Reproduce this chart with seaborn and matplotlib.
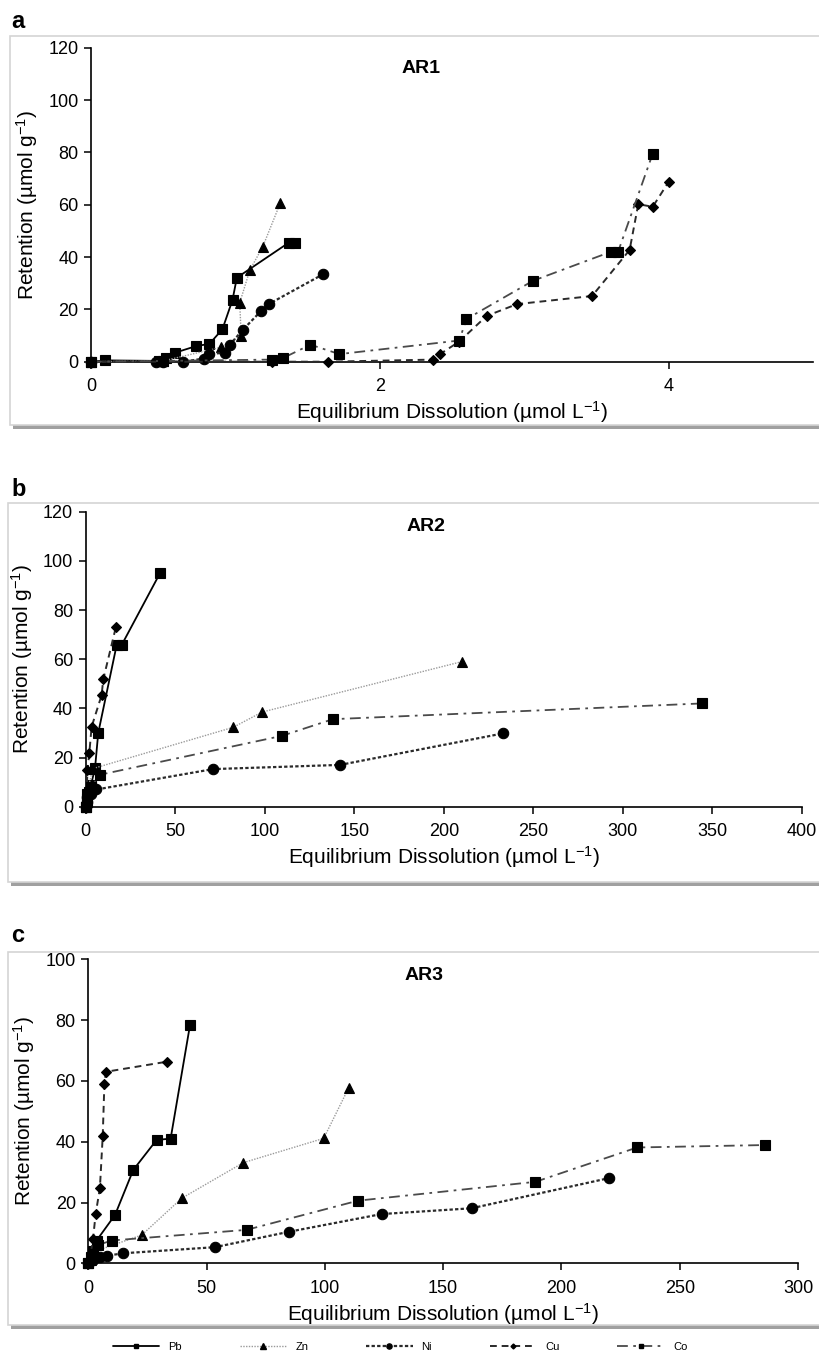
import matplotlib
matplotlib.use("Agg")
import matplotlib.pyplot as plt
import seaborn as sns
from matplotlib.patches import Rectangle
from matplotlib.lines import Line2D

# ---- data ----
# panel a (AR1)
a_pb_x = [0, 0.1, 0.47, 0.52, 0.58, 0.73, 0.82, 0.91, 0.98, 1.01, 1.37, 1.41]
a_pb_y = [0, 0.5, 0.3, 1.5, 3.4, 6.0, 6.8, 12.4, 23.6, 32.1, 45.5, 45.5]
a_zn_x = [0, 0.5, 0.9, 1.04, 1.03, 1.1, 1.19, 1.31]
a_zn_y = [0, 0.3, 5.5, 10.0, 22.5, 35.0, 44.0, 60.5]
a_ni_x = [0, 0.45, 0.5, 0.64, 0.78, 0.82, 0.93, 0.96, 1.05, 1.18, 1.23, 1.61]
a_ni_y = [0, 0, 0, 0, 1.2, 3.0, 3.4, 6.4, 12.1, 19.5, 22.0, 33.5]
a_cu_x = [0, 0.5, 1.25, 1.64, 2.37, 2.42, 2.55, 2.74, 2.95, 3.47, 3.73, 3.79, 3.89, 4.0]
a_cu_y = [0, 0, 0, 0, 0.8, 3.0, 7.7, 17.5, 22.0, 25.1, 42.7, 60.2, 59.2, 68.7]
a_co_x = [0, 0.5, 1.25, 1.33, 1.52, 1.72, 2.55, 2.6, 3.06, 3.6, 3.65, 3.89]
a_co_y = [0, 0.3, 0.8, 1.4, 6.5, 2.9, 8.1, 16.3, 30.9, 42.0, 42.0, 79.5]

# panel b (AR2)
b_pb_x = [0, 1, 2, 3, 5.2, 7, 17.3, 20.1, 41.5]
b_pb_y = [0, 3, 6, 9, 15.6, 30, 65.8, 65.8, 95]
b_zn_x = [0, 0.5, 1.5, 4, 82.4, 98.5, 210]
b_zn_y = [0, 3, 8, 15.5, 32.3, 38.5, 59.0]
b_ni_x = [0, 0.5, 1, 3, 6, 71.2, 142, 233]
b_ni_y = [0, 2, 4, 5, 7, 15.3, 17.0, 29.8]
b_cu_x = [0, 0.5, 1, 2.0, 3.3, 8.9, 9.8, 16.9]
b_cu_y = [0, 5, 15, 21.7, 32.5, 45.4, 51.8, 73.2]
b_co_x = [0, 0.5, 1, 3, 8, 109.5, 138, 344]
b_co_y = [0, 2, 5, 8, 13, 28.8, 35.6, 42.0]

# panel c (AR3)
c_pb_x = [0, 1, 2, 3.5, 11.3, 19.0, 28.9, 34.8, 43.0]
c_pb_y = [0, 2, 4, 7.5, 15.9, 30.7, 40.6, 41.0, 78.4]
c_zn_x = [0, 1, 3, 22.6, 39.5, 65.5, 99.5, 110]
c_zn_y = [0, 1, 4, 9.3, 21.4, 33.1, 41.1, 57.6]
c_ni_x = [0, 2, 5, 8, 14.8, 53.5, 85, 124, 162, 220]
c_ni_y = [0, 1, 2, 2.5, 3.3, 5.3, 10.4, 16.2, 18.1, 28.0]
c_cu_x = [0, 1, 2, 3.1, 4.9, 6.1, 6.8, 7.5, 33.1]
c_cu_y = [0, 3, 8, 16.2, 24.7, 41.9, 59.0, 63.0, 66.3]
c_co_x = [0, 2, 4, 9.9, 66.9, 114, 189, 232, 286]
c_co_y = [0, 3, 6, 7.5, 11.0, 20.6, 26.8, 38.1, 38.9]

metals = ["Pb", "Zn", "Ni", "Cu", "Co"]

styles = {
    "Pb": dict(color="black", linestyle="-", lw=1.3, marker="s", ms=7),
    "Zn": dict(color="#9a9a9a", linestyle=(0, (1, 1)), lw=1.0, marker="^", ms=7.5),
    "Ni": dict(color="#2a2a2a", linestyle=(0, (1.5, 1)), lw=1.6, marker="o", ms=7.5),
    "Cu": dict(color="#2a2a2a", linestyle=(0, (3.5, 2.5)), lw=1.4, marker="D", ms=5),
    "Co": dict(color="#4a4a4a", linestyle=(0, (6, 3, 1.5, 3)), lw=1.3, marker="s", ms=7),
}

W, H = 819, 1359
sns.set_style("ticks")
plt.rcParams["font.family"] = ["Liberation Sans", "DejaVu Sans"]
plt.rcParams["mathtext.fontset"] = "custom"
plt.rcParams["mathtext.rm"] = "Liberation Sans"
plt.rcParams["mathtext.it"] = "Liberation Sans"
plt.rcParams["text.color"] = "black"
plt.rcParams["axes.labelcolor"] = "black"

fig = plt.figure(figsize=(W / 100, H / 100), dpi=100)


def fx(x):
    return x / W


def fy(y):
    return 1 - y / H


# panel frames with a drop shadow (kept behind the axes)
for (x0, y0, x1, y1) in [(10, 36, 822, 425), (8, 503, 822, 882), (8, 952, 822, 1325)]:
    fig.add_artist(Rectangle((fx(x0 + 3), fy(y1 + 4)), fx(x1 - x0), (y1 - y0) / H,
                             transform=fig.transFigure, facecolor="#a0a0a0",
                             edgecolor="none", zorder=-3))
    fig.add_artist(Rectangle((fx(x0), fy(y1)), fx(x1 - x0), (y1 - y0) / H,
                             transform=fig.transFigure, facecolor="white",
                             edgecolor="#d4d4d4", lw=1.2, zorder=-2))

panels = [
    dict(box=(91, 47.7, 813, 361.7), xlim=(0, 5), xticks=[0, 2, 4], ylim=(0, 120),
         yticks=range(0, 121, 20), title="AR1", tpos=(0.457, 0.935), letter="a", lpos=(11, 22),
         series={"Pb": (a_pb_x, a_pb_y), "Zn": (a_zn_x, a_zn_y), "Ni": (a_ni_x, a_ni_y),
                 "Cu": (a_cu_x, a_cu_y), "Co": (a_co_x, a_co_y)}),
    dict(box=(85.7, 511.7, 802, 806.7), xlim=(0, 400), xticks=range(0, 401, 50), ylim=(0, 120),
         yticks=range(0, 121, 20), title="AR2", tpos=(0.475, 0.95), letter="b", lpos=(11, 489),
         series={"Pb": (b_pb_x, b_pb_y), "Zn": (b_zn_x, b_zn_y), "Ni": (b_ni_x, b_ni_y),
                 "Cu": (b_cu_x, b_cu_y), "Co": (b_co_x, b_co_y)}),
    dict(box=(88.3, 959.3, 798, 1263.3), xlim=(0, 300), xticks=range(0, 301, 50), ylim=(0, 100),
         yticks=range(0, 101, 20), title="AR3", tpos=(0.473, 0.948), letter="c", lpos=(11, 936),
         series={"Pb": (c_pb_x, c_pb_y), "Zn": (c_zn_x, c_zn_y), "Ni": (c_ni_x, c_ni_y),
                 "Cu": (c_cu_x, c_cu_y), "Co": (c_co_x, c_co_y)}),
]

for p in panels:
    l, t, r, b = p["box"]
    ax = fig.add_axes([fx(l), fy(b), (r - l) / W, (b - t) / H])
    ax.set_facecolor("none")
    for m in metals:
        xs, ys = p["series"][m]
        st = styles[m]
        sns.lineplot(x=xs, y=ys, ax=ax, sort=False, estimator=None, legend=False,
                     color=st["color"], linestyle=st["linestyle"], lw=st["lw"],
                     marker=st["marker"], markersize=st["ms"], markerfacecolor="black",
                     markeredgecolor="black", markeredgewidth=0.8, clip_on=False, zorder=3)
    ax.set_xlim(*p["xlim"])
    ax.set_ylim(*p["ylim"])
    ax.set_xticks(list(p["xticks"]))
    ax.set_yticks(list(p["yticks"]))
    sns.despine(ax=ax)
    for s in ["left", "bottom"]:
        ax.spines[s].set_color("black")
        ax.spines[s].set_linewidth(1.2)
    ax.tick_params(direction="out", length=5, width=1.1, colors="black", labelsize=13)
    ax.tick_params(axis="x", pad=7)
    ax.tick_params(axis="y", pad=4)
    ax.set_xlabel("Equilibrium Dissolution (µmol L$^{-1}$)", fontsize=15, labelpad=3)
    ax.set_ylabel("Retention (µmol g$^{-1}$)", fontsize=15, labelpad=6)
    ax.text(p["tpos"][0], p["tpos"][1], p["title"], transform=ax.transAxes,
            ha="center", va="center", fontsize=14, fontweight="bold")
    fig.text(fx(p["lpos"][0]), fy(p["lpos"][1]), p["letter"], ha="left", va="center",
             fontsize=17, fontweight="bold")

handles = []
for m in metals:
    st = styles[m]
    handles.append(Line2D([], [], color=st["color"], linestyle=st["linestyle"], lw=st["lw"],
                          marker=st["marker"], markersize=st["ms"] * 0.5,
                          markerfacecolor="black", markeredgecolor="black"))
fig.legend(handles, metals, loc="center", bbox_to_anchor=(fx(400), fy(1347)), ncol=5,
           frameon=False, fontsize=8, handlelength=4.2, handletextpad=0.8,
           columnspacing=5.2)

fig.savefig("out.png", dpi=100, facecolor="white")
